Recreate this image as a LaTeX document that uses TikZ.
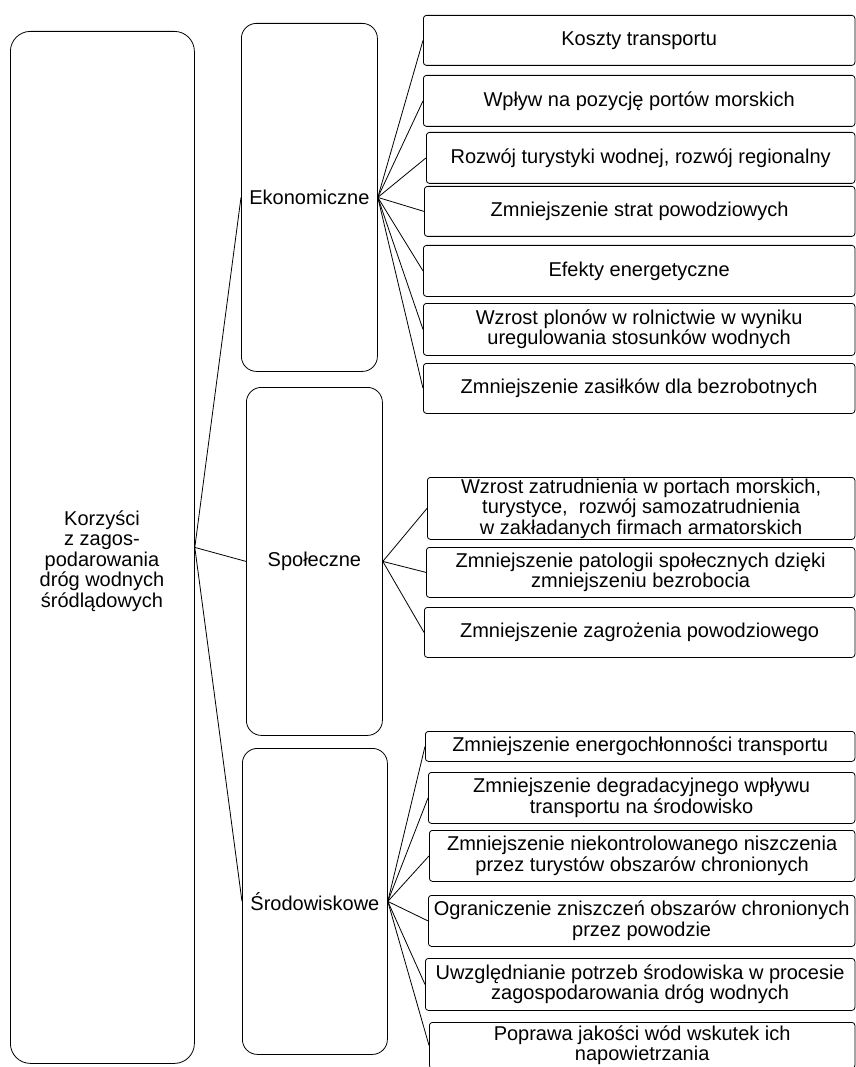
\documentclass[tikz,border=0pt]{standalone}
\usepackage{fontspec}
\setmainfont{Liberation Sans}
\begin{document}
\begin{tikzpicture}[x=1pt,y=-1pt,
  every node/.style={font=\fontsize{20}{20.5}\selectfont, align=center, inner sep=0pt},
  leaf/.style={draw, line width=0.8pt, rounded corners=3pt, anchor=north west},
  mid/.style={draw, line width=0.8pt, rounded corners=15pt, anchor=north west},
  rootbox/.style={draw, line width=0.8pt, rounded corners=20pt, anchor=north west},
  conn/.style={line width=0.8pt}]
\useasboundingbox (0,0) rectangle (855,1067);

% root
\node[rootbox, minimum width=184pt, minimum height=1032pt] (root) at (10,31) {};
\node (roottxt) at (102,561) {Korzyści\\ z zagos-\\podarowania\\ dróg wodnych\\śródlądowych};

% middle level
\node[mid, minimum width=136pt, minimum height=348pt] (ek) at (241,23) {Ekonomiczne};
\node[mid, minimum width=136pt, minimum height=348pt] (sp) at (246,387) {Społeczne};
\node[mid, minimum width=145pt, minimum height=306pt] (sr) at (242,748) {Środowiskowe};

% economic leaves
\node[leaf, minimum width=431.5pt, minimum height=50pt] (e1) at (423,15) {Koszty transportu};
\node[leaf, minimum width=431.5pt, minimum height=51pt] (e2) at (423,75) {Wpływ na pozycję portów morskich};
\node[leaf, minimum width=428.5pt, minimum height=51pt] (e3) at (426,132) {Rozwój turystyki wodnej, rozwój regionalny};
\node[leaf, minimum width=430.5pt, minimum height=50pt] (e4) at (424,186) {Zmniejszenie strat powodziowych};
\node[leaf, minimum width=431.5pt, minimum height=51pt] (e5) at (423,245) {Efekty energetyczne};
\node[leaf, minimum width=431.5pt, minimum height=52pt] (e6) at (423,303) {Wzrost plonów w rolnictwie w wyniku\\uregulowania stosunków wodnych};
\node[leaf, minimum width=431.5pt, minimum height=50pt] (e7) at (423,363) {Zmniejszenie zasiłków dla bezrobotnych};

% social leaves
\node[leaf, minimum width=427.5pt, minimum height=62pt] (s1) at (427,477) {Wzrost zatrudnienia w portach morskich,\\turystyce,~ rozwój samozatrudnienia\\w zakładanych firmach armatorskich};
\node[leaf, minimum width=428.5pt, minimum height=50pt] (s2) at (426,547) {Zmniejszenie patologii społecznych dzięki\\zmniejszeniu bezrobocia};
\node[leaf, minimum width=430.5pt, minimum height=50pt] (s3) at (424,607) {Zmniejszenie zagrożenia powodziowego};

% environmental leaves
\node[leaf, minimum width=429.5pt, minimum height=30pt] (r1) at (425,731) {Zmniejszenie energochłonności transportu};
\node[leaf, minimum width=426.5pt, minimum height=51pt] (r2) at (428,772) {Zmniejszenie degradacyjnego wpływu\\transportu na środowisko};
\node[leaf, minimum width=425.5pt, minimum height=51pt] (r3) at (429,830) {Zmniejszenie niekontrolowanego niszczenia\\przez turystów obszarów chronionych};
\node[leaf, minimum width=426.5pt, minimum height=51pt] (r4) at (428,895) {Ograniczenie zniszczeń obszarów chronionych\\przez powodzie};
\node[leaf, minimum width=429.5pt, minimum height=52pt] (r5) at (425,958) {Uwzględnianie potrzeb środowiska w procesie\\zagospodarowania dróg wodnych};
\node[leaf, minimum width=425.5pt, minimum height=46pt] (r6) at (429,1022) {Poprawa jakości wód wskutek ich\\napowietrzania};

% connectors
\foreach \c in {ek,sp,sr} \draw[conn] (root.east) -- (\c.west);
\foreach \c in {e1,e2,e3,e4,e5,e6,e7} \draw[conn] (ek.east) -- (\c.west);
\foreach \c in {s1,s2,s3} \draw[conn] (sp.east) -- (\c.west);
\foreach \c in {r1,r2,r3,r4,r5,r6} \draw[conn] (sr.east) -- (\c.west);
\end{tikzpicture}
\end{document}
